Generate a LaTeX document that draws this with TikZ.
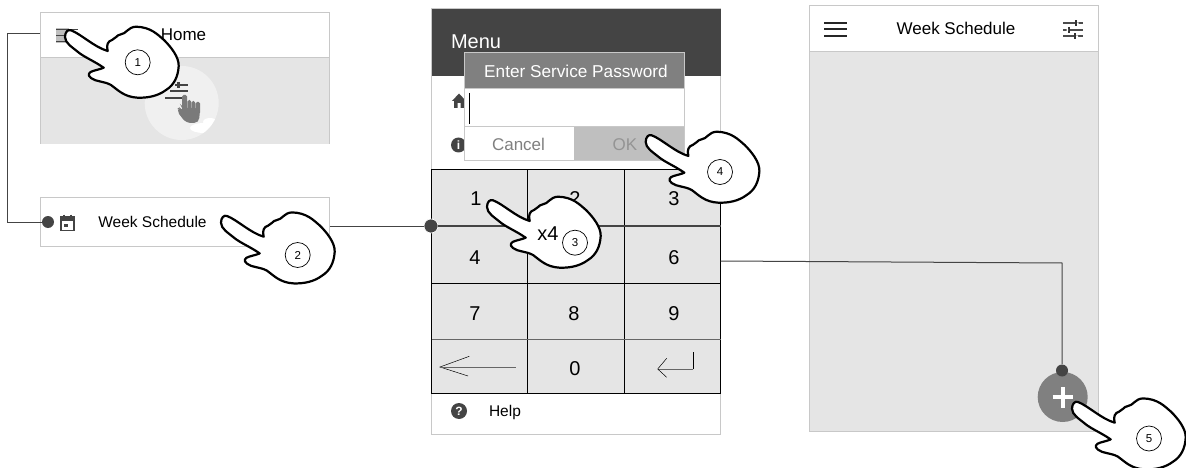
\documentclass[tikz,border=0pt]{standalone}
\usepackage{fontspec}
\setmainfont{Liberation Sans}
\definecolor{panelgray}{HTML}{E5E5E5}
\definecolor{edgegray}{HTML}{C8C8C8}
\definecolor{darkhead}{HTML}{444444}
\definecolor{midgray}{HTML}{808080}
\definecolor{okgray}{HTML}{BFBFBF}
\tikzset{
  x=1pt,y=-1pt,
  lbl/.style={inner sep=0pt,outer sep=0pt,anchor=base},
  conn/.style={draw=darkhead,line width=1pt},
  dotn/.style={circle,fill=darkhead,draw=white,line width=0.6pt,minimum size=13pt,inner sep=0pt},
  edge/.style={draw=edgegray,line width=1pt},
  keyl/.style={draw=black,line width=1pt},
  num/.style={circle,draw=black,fill=white,line width=0.7pt,minimum size=25pt,inner sep=0pt,font=\fontsize{11.5}{11.5}\selectfont},
  handshape/.pic={
    \draw[black,fill=white,line width=2.2pt,line join=round]
    (5,-4.7) .. controls (15,-1) and (28,12) .. (41.7,16)
    .. controls (40,10) and (42,6) .. (46,5)
    .. controls (50,4) and (50,0) .. (55,-0.7)
    .. controls (60,-1) and (62,-8) .. (70,-8.3)
    .. controls (85,-8) and (92,0) .. (98,5)
    .. controls (105,12) and (113,22) .. (112.7,31)
    .. controls (112,42) and (108,50) .. (100,55)
    .. controls (92,61) and (82,63) .. (71.7,62.7)
    .. controls (58,62) and (52,55) .. (45,50)
    .. controls (38,46) and (30,47) .. (25,43)
    .. controls (21,40) and (23,37) .. (27,36)
    .. controls (30,35) and (35,34) .. (37.7,32.7)
    .. controls (28,26) and (18,22) .. (12,17)
    .. controls (6,12) and (-1,8) .. (-1,2)
    .. controls (-1,-3) and (2,-6) .. (5,-4.7) -- cycle;
  },
  sliders/.pic={
    \draw[black!70,line width=2pt] (0,3)--(20,3) (0,9.5)--(20,9.5) (0,16)--(20,16);
    \draw[black!80,line width=1.5pt] (13,0)--(13,6) (6,6.5)--(6,12.5) (12,13)--(12,19);
    \fill[white] (14,2) rectangle (15.5,4) (3.5,8.5) rectangle (5,10.5) (13,15) rectangle (15,17);
  }
}
\newcommand{\fs}[1]{\fontsize{#1}{#1}\selectfont}
\begin{document}
\begin{tikzpicture}
\useasboundingbox (0,0) rectangle (1186,468);
\fill[white] (0,0) rectangle (1186,468);

% panel 1: Home
\fill[panelgray] (40.5,58) rectangle (329.5,144);
\draw[edge] (40.5,144) -- (40.5,12.5) -- (329.5,12.5) -- (329.5,144);
\draw[edge] (40.5,58) -- (329.5,58);
\fill[black!6] (181.7,103) circle (37);
\begin{scope}
\clip (181.7,103) circle (37);
\fill[white] (204,128) ellipse (14 and 5);
\fill[white] (210,122) ellipse (7 and 4);
\end{scope}
\fill[black!25] (55.5,28) rectangle (69,43.5);
\draw[darkhead,line width=1.5pt] (56,29.3)--(78,29.3) (56,35.5)--(72,35.5) (56,41.7)--(72,41.7);
\node[lbl,font=\fs{17}] (homet) at (183.5,41) {Home};
\draw[darkhead,line width=2pt] (175,85)--(188,85) (170,90.7)--(188,90.7) (165,98.3)--(182,98.3);
\fill[darkhead] (177,82) rectangle (180,88);
% small grey hand icon
\fill[black!52,rounded corners=1.5pt] (182,95) rectangle (187,112) (187.5,100) rectangle (191,112) (191.5,101) rectangle (195,112) (195.5,102) rectangle (200,114);
\fill[black!52,rounded corners=5pt] (182,108) -- (200,108) -- (199,123) -- (186,123) -- (176,110) -- (181,106) -- cycle;

% panel 2: Week Schedule
\fill[white] (40.5,197.5) rectangle (329.5,246);
\draw[edge] (40.5,197.5) rectangle (329.5,246);
\node[dotn,draw=none,minimum size=12pt] (d1) at (48,222) {};
\coordinate (c1a) at (40,33.5);
\coordinate (c1b) at (7,33.5);
\coordinate (c1c) at (7,222);
\draw[conn] (c1a) -- (c1b) -- (c1c) -- (d1);
% calendar icon
\draw[darkhead,line width=1.6pt] (61,217.5) rectangle (74,230.5);
\fill[darkhead] (60,216) rectangle (75,221);
\draw[darkhead,line width=1.2pt] (64,214.5)--(64,217) (71,214.5)--(71,217);
\fill[darkhead] (64,223.5) rectangle (68,227);
\node[lbl,font=\fs{15.5}] (wst) at (152.5,227) {Week Schedule};

% panel 3: menu
\fill[white] (431.5,9) rectangle (720.5,434);
\draw[edge] (431.5,9) rectangle (720.5,434);
\fill[darkhead] (431.5,9) rectangle (720.5,76);
\node[lbl,font=\fs{20},white,anchor=base west] (mnu) at (451,48.5) {Menu};
% home, info icons
\fill[darkhead] (452,101) -- (459,93.5) -- (466,101) -- (464,101) -- (464,108) -- (460.5,108) -- (460.5,103) -- (457.5,103) -- (457.5,108) -- (454,108) -- (454,101) -- cycle;
\node[circle,fill=darkhead,minimum size=15pt,inner sep=0pt,text=white,font=\bfseries\fs{12}] (info) at (458.5,145) {i};
% keypad
\fill[panelgray] (431.5,169) rectangle (720.5,393.5);
\draw[keyl] (431.5,169) rectangle (720.5,393.5);
\draw[keyl] (527.3,169)--(527.3,393.5) (624.3,169)--(624.3,393.5);
\draw[keyl] (431.5,283)--(720.5,283);
\draw[draw=black!60,line width=1.2pt] (431.5,339.3)--(720.5,339.3);
\foreach \dg/\px/\py in {1/476/205.5,2/575/205.5,3/674/205.5,4/475/264,6/674/264,7/475/320,8/574/320,9/674/320,0/575/375.5}{
  \node[lbl,font=\fs{20}] (k\dg) at (\px,\py) {\dg};
}
% backspace and return arrows
\draw[black,line width=0.5pt] (469.3,356.3)--(440,367)--(468,376);
\draw[black!60,line width=1pt] (440,367)--(516,367);
\draw[black,line width=0.6pt] (693.3,352.3)--(693.3,369);
\draw[black!60,line width=1pt] (693.3,369)--(657.7,369);
\draw[black,line width=0.5pt] (666.7,358.3)--(657.7,369)--(666.7,377.3);
% help
\node[circle,fill=darkhead,minimum size=16pt,inner sep=0pt,text=white,font=\bfseries\fs{12}] (hq) at (459,411) {?};
\node[lbl,font=\fs{15.5},anchor=base west] (help) at (489,416) {Help};
% connector through keypad
\node[dotn,minimum size=14pt] (d2) at (431,226) {};
\coordinate (c2a) at (329.5,226);
\coordinate (c2b) at (720.5,226);
\draw[conn] (c2a) -- (d2);
\draw[conn,line width=1.4pt] (d2) -- (c2b);

% dialog
\fill[white] (464.5,53) rectangle (684.5,161);
\fill[midgray] (464.5,53) rectangle (684.5,88);
\fill[okgray] (574,127) rectangle (684.5,161);
\draw[edge] (464.5,53) rectangle (684.5,161);
\draw[edge] (464.5,88.5)--(684.5,88.5) (464.5,126.5)--(684.5,126.5);
\draw[black,line width=0.8pt] (469.5,93)--(469.5,124);
\node[lbl,font=\fs{17.2},white] (dt) at (576,78) {Enter Service Password};
\node[lbl,font=\fs{17},black!50] (cn) at (518.5,150.5) {Cancel};
\node[lbl,font=\fs{17},black!42] (ok) at (625,150.5) {OK};

% panel 4: week schedule
\fill[panelgray] (809.5,52) rectangle (1098,431);
\draw[edge] (809.5,6) rectangle (1098,431);
\draw[edge] (809.5,52) -- (1098,52);
\draw[black!85,line width=1.8pt] (824,22.7)--(847,22.7) (824,29.3)--(847,29.3) (824,35.7)--(847,35.7);
\node[lbl,font=\fs{17}] (wst2) at (956,35) {Week Schedule};
\pic at (1063,20.5) {sliders};
\node[circle,fill=midgray,minimum size=50pt,inner sep=0pt] (plus) at (1062.7,397) {};
\draw[white,line width=3.6pt] (1052.5,397)--(1073,397) (1062.7,387)--(1062.7,407.5);
\node[dotn,draw=none,minimum size=12pt] (d3) at (1062,370.5) {};
\coordinate (c3a) at (720.5,261);
\coordinate (c3b) at (1062,263);
\draw[conn] (c3a) -- (c3b) -- (d3);

% hands
\pic at (66,35) {handshape};
\node[num] (n1) at (137.7,62.3) {1};
\pic at (222,220.7) {handshape};
\node[num] (n2) at (297.7,255) {2};
\pic at (488,205) {handshape};
\node[lbl,font=\fs{20}] (x4) at (548,240.5) {x4};
\node[num] (n3) at (575,242.7) {3};
\pic at (646.7,140) {handshape};
\node[num] (n4) at (720,172) {4};
\pic at (1073,406.7) {handshape};
\node[num] (n5) at (1149,438.5) {5};
\end{tikzpicture}
\end{document}
